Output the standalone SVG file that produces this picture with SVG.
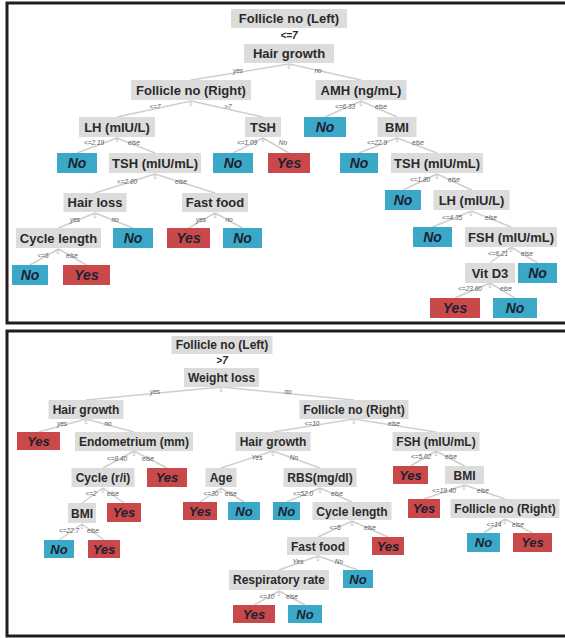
<svg xmlns="http://www.w3.org/2000/svg" width="565" height="638" viewBox="0 0 565 638">
<style>
.frame{fill:#fff;stroke:#1e1e1e;stroke-width:3}
.n{fill:#dcdcdc}
.y{fill:#c9484a}
.b{fill:#3ba8c8}
.t{font-family:"Liberation Sans",Arial,sans-serif;font-weight:bold;font-size:13px;fill:#2a2a2a;text-anchor:middle}
.t2{font-family:"Liberation Sans",Arial,sans-serif;font-weight:bold;font-size:12px;fill:#2a2a2a;text-anchor:middle}
.l{font-family:"Liberation Sans",Arial,sans-serif;font-weight:bold;font-style:italic;font-size:14px;fill:#1c2230;text-anchor:middle}
.l2{font-family:"Liberation Sans",Arial,sans-serif;font-weight:bold;font-style:italic;font-size:13px;fill:#1c2230;text-anchor:middle}
.e{font-family:"Liberation Sans",Arial,sans-serif;font-style:italic;font-size:6.5px;fill:#5a5a5a;text-anchor:middle}
.z{font-family:"Liberation Sans",Arial,sans-serif;font-size:5px;fill:#aaa;text-anchor:middle}
.c{stroke:#cfcfcf;stroke-width:1.5;fill:none}
.s{font-family:"Liberation Sans",Arial,sans-serif;font-style:italic;font-weight:bold;font-size:10px;fill:#2a2a2a;text-anchor:middle}
</style>
<rect class="frame" x="7" y="3" width="562" height="320"/>
<rect class="frame" x="7" y="331" width="562" height="305"/>

<g id="connectors">
<line class="c" x1="289" y1="64" x2="191" y2="80"/><line class="c" x1="289" y1="64" x2="361" y2="80"/>
<line class="c" x1="191" y1="101" x2="117" y2="117"/><line class="c" x1="191" y1="101" x2="263" y2="117"/>
<line class="c" x1="361" y1="101" x2="325" y2="117"/><line class="c" x1="361" y1="101" x2="397" y2="117"/>
<line class="c" x1="117" y1="138" x2="77" y2="153"/><line class="c" x1="117" y1="138" x2="155" y2="153"/>
<line class="c" x1="263" y1="138" x2="233" y2="153"/><line class="c" x1="263" y1="138" x2="289" y2="153"/>
<line class="c" x1="397" y1="138" x2="359" y2="153"/><line class="c" x1="397" y1="138" x2="437" y2="153"/>
<line class="c" x1="155" y1="174" x2="95" y2="193"/><line class="c" x1="155" y1="174" x2="215" y2="193"/>
<line class="c" x1="437" y1="174" x2="403" y2="190"/><line class="c" x1="437" y1="174" x2="471.5" y2="190"/>
<line class="c" x1="95" y1="213" x2="58.5" y2="228"/><line class="c" x1="95" y1="213" x2="133" y2="228"/>
<line class="c" x1="215" y1="213" x2="188.5" y2="228"/><line class="c" x1="215" y1="213" x2="242.5" y2="228"/>
<line class="c" x1="471.5" y1="211" x2="432.5" y2="227"/><line class="c" x1="471.5" y1="211" x2="511" y2="227"/>
<line class="c" x1="58.5" y1="249" x2="30" y2="265"/><line class="c" x1="58.5" y1="249" x2="86.5" y2="265"/>
<line class="c" x1="511" y1="247" x2="490" y2="263"/><line class="c" x1="511" y1="247" x2="537.5" y2="263"/>
<line class="c" x1="490" y1="283" x2="455" y2="298"/><line class="c" x1="490" y1="283" x2="515" y2="298"/>
<line class="c" x1="221.5" y1="387" x2="86" y2="400"/><line class="c" x1="221.5" y1="387" x2="354" y2="400"/>
<line class="c" x1="86" y1="419" x2="38.5" y2="432"/><line class="c" x1="86" y1="419" x2="134" y2="432"/>
<line class="c" x1="354" y1="419" x2="273" y2="432"/><line class="c" x1="354" y1="419" x2="436" y2="432"/>
<line class="c" x1="134" y1="451" x2="103" y2="468"/><line class="c" x1="134" y1="451" x2="167" y2="468"/>
<line class="c" x1="273" y1="451" x2="221" y2="468"/><line class="c" x1="273" y1="451" x2="320" y2="468"/>
<line class="c" x1="436" y1="451" x2="410.5" y2="466"/><line class="c" x1="436" y1="451" x2="464.5" y2="466"/>
<line class="c" x1="103" y1="488" x2="82" y2="503"/><line class="c" x1="103" y1="488" x2="124" y2="503"/>
<line class="c" x1="221" y1="488" x2="200" y2="502"/><line class="c" x1="221" y1="488" x2="244" y2="502"/>
<line class="c" x1="320" y1="488" x2="286.5" y2="502"/><line class="c" x1="320" y1="488" x2="352" y2="502"/>
<line class="c" x1="464.5" y1="485" x2="424" y2="499"/><line class="c" x1="464.5" y1="485" x2="505" y2="499"/>
<line class="c" x1="82" y1="524" x2="59" y2="540"/><line class="c" x1="82" y1="524" x2="104" y2="540"/>
<line class="c" x1="352" y1="521" x2="318" y2="537"/><line class="c" x1="352" y1="521" x2="388" y2="537"/>
<line class="c" x1="505" y1="519" x2="483.5" y2="533"/><line class="c" x1="505" y1="519" x2="532.5" y2="533"/>
<line class="c" x1="318" y1="556" x2="279" y2="570"/><line class="c" x1="318" y1="556" x2="358" y2="570"/>
<line class="c" x1="279" y1="591" x2="254" y2="605"/><line class="c" x1="279" y1="591" x2="305" y2="605"/>

<text class="s" x="289" y="39">&lt;=7</text>
<text class="e" x="238" y="73">yes</text><text class="e" x="318" y="73">no</text><text class="z" x="289" y="69">0</text>
<text class="e" x="155" y="109">&lt;=7</text><text class="e" x="228" y="109">&gt;7</text><text class="z" x="191" y="106">0</text>
<text class="e" x="345" y="109">&lt;=6.33</text><text class="e" x="381" y="109">else</text><text class="z" x="361" y="106">0</text>
<text class="e" x="94" y="145">&lt;=2.19</text><text class="e" x="134" y="145">else</text><text class="z" x="117" y="142">0</text>
<text class="e" x="247" y="145">&lt;=1.09</text><text class="e" x="283" y="145">No</text><text class="z" x="263" y="142">0</text>
<text class="e" x="377" y="145">&lt;=22.9</text><text class="e" x="418" y="145">else</text><text class="z" x="397" y="142">0</text>
<text class="e" x="127" y="184">&lt;=2.80</text><text class="e" x="181" y="184">else</text><text class="z" x="155" y="179">0</text>
<text class="e" x="420" y="182">&lt;=1.80</text><text class="e" x="454" y="182">else</text><text class="z" x="437" y="179">0</text>
<text class="e" x="75" y="222">yes</text><text class="e" x="115" y="222">no</text><text class="z" x="95" y="218">0</text>
<text class="e" x="201" y="222">yes</text><text class="e" x="229" y="222">no</text><text class="z" x="215" y="218">0</text>
<text class="e" x="452" y="220">&lt;=4.35</text><text class="e" x="491" y="220">else</text><text class="z" x="471" y="216">0</text>
<text class="e" x="43" y="258">&lt;=6</text><text class="e" x="72" y="258">else</text><text class="z" x="58" y="254">0</text>
<text class="e" x="498" y="256">&lt;=6.21</text><text class="e" x="527" y="256">else</text><text class="z" x="511" y="252">0</text>
<text class="e" x="470" y="291">&lt;=23.60</text><text class="e" x="506" y="291">else</text><text class="z" x="490" y="288">0</text>
<text class="s" x="222" y="364">&gt;7</text>
<text class="e" x="155" y="394">yes</text><text class="e" x="288" y="394">no</text><text class="z" x="221" y="392">0</text>
<text class="e" x="62" y="426">yes</text><text class="e" x="108" y="426">no</text><text class="z" x="86" y="424">0</text>
<text class="e" x="312" y="426">&lt;=10</text><text class="e" x="394" y="426">else</text><text class="z" x="354" y="424">0</text>
<text class="e" x="117" y="461">&lt;=8.40</text><text class="e" x="148" y="461">else</text><text class="z" x="134" y="456">0</text>
<text class="e" x="257" y="460">Yes</text><text class="e" x="294" y="460">No</text><text class="z" x="273" y="456">0</text>
<text class="e" x="421" y="459">&lt;=5.02</text><text class="e" x="451" y="459">else</text><text class="z" x="436" y="456">0</text>
<text class="e" x="91" y="496">&lt;=2</text><text class="e" x="113" y="496">else</text><text class="z" x="103" y="493">0</text>
<text class="e" x="211" y="496">&lt;=30</text><text class="e" x="231" y="496">else</text><text class="z" x="221" y="493">0</text>
<text class="e" x="303" y="496">&lt;=52.0</text><text class="e" x="337" y="496">else</text><text class="z" x="320" y="493">0</text>
<text class="e" x="444" y="493">&lt;=19.40</text><text class="e" x="483" y="493">else</text><text class="z" x="464" y="490">0</text>
<text class="e" x="69" y="533">&lt;=22.7</text><text class="e" x="93" y="533">else</text><text class="z" x="82" y="529">0</text>
<text class="e" x="335" y="530">&lt;=5</text><text class="e" x="370" y="530">else</text><text class="z" x="352" y="526">0</text>
<text class="e" x="494" y="527">&lt;=14</text><text class="e" x="518" y="527">else</text><text class="z" x="505" y="524">0</text>
<text class="e" x="298" y="564">Yes</text><text class="e" x="339" y="564">No</text><text class="z" x="318" y="561">0</text>
<text class="e" x="267" y="599">&lt;=10</text><text class="e" x="292" y="599">else</text><text class="z" x="279" y="596">0</text>
</g>

<g id="t-root"><rect class="n" x="231" y="9" width="116" height="19"/><text class="t" x="289" y="23">Follicle no (Left)</text></g>
<g id="t-hairgrowth"><rect class="n" x="244" y="44" width="90" height="19"/><text class="t" x="289" y="58">Hair growth</text></g>
<g id="t-fnr"><rect class="n" x="131" y="80" width="120" height="20"/><text class="t" x="191" y="95">Follicle no (Right)</text></g>
<g id="t-amh"><rect class="n" x="315.5" y="80" width="91" height="20"/><text class="t" x="361" y="95">AMH (ng/mL)</text></g>
<g id="t-lh"><rect class="n" x="79" y="117" width="76" height="20"/><text class="t" x="117" y="132">LH (mIU/L)</text></g>
<g id="t-tsh"><rect class="n" x="245" y="117" width="36" height="20"/><text class="t" x="263" y="132">TSH</text></g>
<g id="t-no1"><rect class="b" x="304" y="117" width="42" height="20"/><text class="l" x="325" y="132">No</text></g>
<g id="t-bmi"><rect class="n" x="377.5" y="117" width="39" height="20"/><text class="t" x="397" y="132">BMI</text></g>
<g id="t-no2"><rect class="b" x="57" y="153" width="40" height="20"/><text class="l" x="77" y="168">No</text></g>
<g id="t-tsh2"><rect class="n" x="109" y="153" width="92" height="20"/><text class="t" x="155" y="168">TSH (mIU/mL)</text></g>
<g id="t-no3"><rect class="b" x="213" y="153" width="40" height="20"/><text class="l" x="233" y="168">No</text></g>
<g id="t-yes1"><rect class="y" x="268" y="153" width="42" height="20"/><text class="l" x="289" y="168">Yes</text></g>
<g id="t-no4"><rect class="b" x="340" y="153" width="38" height="20"/><text class="l" x="359" y="168">No</text></g>
<g id="t-tsh3"><rect class="n" x="391" y="153" width="92" height="20"/><text class="t" x="437" y="168">TSH (mIU/mL)</text></g>
<g id="t-hairloss"><rect class="n" x="63.5" y="193" width="63" height="19"/><text class="t" x="95" y="207">Hair loss</text></g>
<g id="t-fastfood"><rect class="n" x="182" y="193" width="66" height="19"/><text class="t" x="215" y="207">Fast food</text></g>
<g id="t-no5"><rect class="b" x="385" y="190" width="36" height="20"/><text class="l" x="403" y="205">No</text></g>
<g id="t-lh2"><rect class="n" x="433.5" y="190" width="76" height="20"/><text class="t" x="471.5" y="205">LH (mIU/L)</text></g>
<g id="t-cyclelength"><rect class="n" x="16" y="228" width="85" height="20"/><text class="t" x="58.5" y="243">Cycle length</text></g>
<g id="t-no6"><rect class="b" x="113" y="228" width="40" height="20"/><text class="l" x="133" y="243">No</text></g>
<g id="t-yes2"><rect class="y" x="167" y="228" width="43" height="20"/><text class="l" x="188.5" y="243">Yes</text></g>
<g id="t-no7"><rect class="b" x="223" y="228" width="39" height="20"/><text class="l" x="242.5" y="243">No</text></g>
<g id="t-no8"><rect class="b" x="413" y="227" width="39" height="20"/><text class="l" x="432.5" y="242">No</text></g>
<g id="t-fsh"><rect class="n" x="465" y="227" width="92" height="20"/><text class="t" x="511" y="242">FSH (mIU/mL)</text></g>
<g id="t-no9"><rect class="b" x="12" y="265" width="36" height="20"/><text class="l" x="30" y="280">No</text></g>
<g id="t-yes3"><rect class="y" x="63" y="265" width="47" height="20"/><text class="l" x="86.5" y="280">Yes</text></g>
<g id="t-vitd3"><rect class="n" x="465" y="263" width="50" height="20"/><text class="t" x="490" y="278">Vit D3</text></g>
<g id="t-no10"><rect class="b" x="518" y="263" width="39" height="20"/><text class="l" x="537.5" y="278">No</text></g>
<g id="t-yes4"><rect class="y" x="430" y="298" width="50" height="20"/><text class="l" x="455" y="313">Yes</text></g>
<g id="t-no11"><rect class="b" x="493" y="298" width="44" height="20"/><text class="l" x="515" y="313">No</text></g>

<g id="b-root"><rect class="n" x="171.5" y="336" width="101" height="18"/><text class="t2" x="222" y="349">Follicle no (Left)</text></g>
<g id="b-weightloss"><rect class="n" x="184" y="368" width="75" height="19"/><text class="t2" x="221.5" y="382">Weight loss</text></g>
<g id="b-hairgrowth"><rect class="n" x="48.5" y="400" width="75" height="19"/><text class="t2" x="86" y="414">Hair growth</text></g>
<g id="b-fnr"><rect class="n" x="299.5" y="400" width="109" height="19"/><text class="t2" x="354" y="414">Follicle no (Right)</text></g>
<g id="b-yes1"><rect class="y" x="17" y="432" width="43" height="18"/><text class="l2" x="38.5" y="446">Yes</text></g>
<g id="b-endometrium"><rect class="n" x="75" y="432" width="118" height="19"/><text class="t2" x="134" y="446">Endometrium (mm)</text></g>
<g id="b-hairgrowth2"><rect class="n" x="235.5" y="432" width="75" height="19"/><text class="t2" x="273" y="446">Hair growth</text></g>
<g id="b-fsh"><rect class="n" x="392.5" y="432" width="87" height="19"/><text class="t2" x="436" y="446">FSH (mIU/mL)</text></g>
<g id="b-cycle"><rect class="n" x="71.5" y="468" width="63" height="19"/><text class="t2" x="103" y="482">Cycle (r/i)</text></g>
<g id="b-yes2"><rect class="y" x="147" y="468" width="40" height="19"/><text class="l2" x="167" y="482">Yes</text></g>
<g id="b-age"><rect class="n" x="205.5" y="468" width="31" height="19"/><text class="t2" x="221" y="482">Age</text></g>
<g id="b-rbs"><rect class="n" x="283.5" y="468" width="73" height="19"/><text class="t2" x="320" y="482">RBS(mg/dl)</text></g>
<g id="b-yes3"><rect class="y" x="393" y="466" width="35" height="18"/><text class="l2" x="410.5" y="480">Yes</text></g>
<g id="b-bmi"><rect class="n" x="445" y="466" width="39" height="18"/><text class="t2" x="464.5" y="480">BMI</text></g>
<g id="b-bmi2"><rect class="n" x="68" y="503" width="28" height="20"/><text class="t2" x="82" y="518">BMI</text></g>
<g id="b-yes4"><rect class="y" x="107" y="503" width="34" height="19"/><text class="l2" x="124" y="517">Yes</text></g>
<g id="b-yes5"><rect class="y" x="183" y="502" width="34" height="18"/><text class="l2" x="200" y="516">Yes</text></g>
<g id="b-no1"><rect class="b" x="228" y="502" width="32" height="18"/><text class="l2" x="244" y="516">No</text></g>
<g id="b-no2"><rect class="b" x="273" y="502" width="27" height="18"/><text class="l2" x="286.5" y="516">No</text></g>
<g id="b-cyclelength"><rect class="n" x="312.5" y="502" width="79" height="18"/><text class="t2" x="352" y="516">Cycle length</text></g>
<g id="b-yes6"><rect class="y" x="408" y="499" width="32" height="19"/><text class="l2" x="424" y="513">Yes</text></g>
<g id="b-fnr2"><rect class="n" x="450.5" y="499" width="109" height="19"/><text class="t2" x="505" y="513">Follicle no (Right)</text></g>
<g id="b-no3"><rect class="b" x="44" y="540" width="30" height="18"/><text class="l2" x="59" y="554">No</text></g>
<g id="b-yes7"><rect class="y" x="88" y="540" width="32" height="18"/><text class="l2" x="104" y="554">Yes</text></g>
<g id="b-fastfood"><rect class="n" x="287" y="537" width="62" height="18"/><text class="t2" x="318" y="551">Fast food</text></g>
<g id="b-yes8"><rect class="y" x="372" y="537" width="32" height="18"/><text class="l2" x="388" y="551">Yes</text></g>
<g id="b-no4"><rect class="b" x="467" y="533" width="33" height="19"/><text class="l2" x="483.5" y="547">No</text></g>
<g id="b-yes9"><rect class="y" x="513" y="533" width="39" height="19"/><text class="l2" x="532.5" y="547">Yes</text></g>
<g id="b-resp"><rect class="n" x="229" y="570" width="100" height="20"/><text class="t2" x="279" y="584">Respiratory rate</text></g>
<g id="b-no5"><rect class="b" x="343" y="570" width="30" height="18"/><text class="l2" x="358" y="584">No</text></g>
<g id="b-yes10"><rect class="y" x="233" y="605" width="42" height="18"/><text class="l2" x="254" y="619">Yes</text></g>
<g id="b-no6"><rect class="b" x="288" y="605" width="34" height="18"/><text class="l2" x="305" y="619">No</text></g>
</svg>
